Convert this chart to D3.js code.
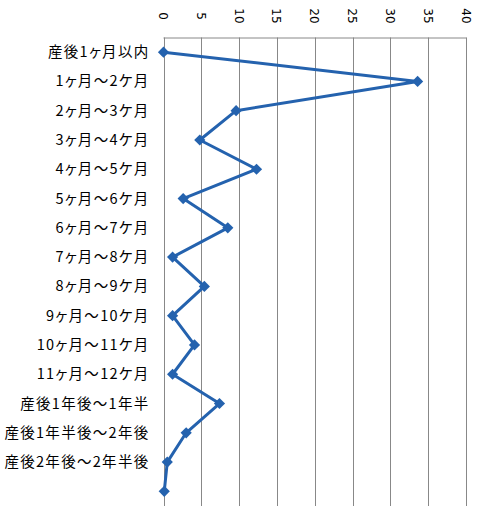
<!DOCTYPE html>
<html><head><meta charset="utf-8">
<script src="https://cdn.jsdelivr.net/npm/d3@7"></script>
<style>body{margin:0;background:#fff} .cat{font-feature-settings:"palt" 1;}</style>
</head><body>
<svg id="c" width="481" height="527"></svg>
<script>
const categories = ["産後1ヶ月以内","1ヶ月～2ケ月","2ヶ月～3ケ月","3ヶ月～4ケ月","4ヶ月～5ケ月","5ヶ月～6ケ月","6ヶ月～7ケ月","7ヶ月～8ケ月","8ヶ月～9ケ月","9ヶ月～10ケ月","10ヶ月～11ケ月","11ヶ月～12ケ月","産後1年後～1年半","産後1年半後～2年後","産後2年後～2年半後",""];
const values = [0,33.6,9.6,4.8,12.3,2.6,8.5,1.2,5.4,1.2,4.1,1.2,7.4,3.0,0.5,0.1];
const ticks = [0,5,10,15,20,25,30,35,40];

const svg = d3.select("#c");
const pLeft = 163.5, pRight = 466, pTop = 37.5, pBottom = 506;
const x = d3.scaleLinear().domain([0,40]).range([pLeft,pRight]);
const y = d3.scalePoint().domain(d3.range(categories.length)).range([pTop,pBottom]).padding(0.5);

const grid = svg.append("g");
grid.selectAll("line.v").data(ticks).join("line")
  .attr("x1",d=>Math.round(x(d))+0.5).attr("x2",d=>Math.round(x(d))+0.5)
  .attr("y1",pTop).attr("y2",pBottom)
  .attr("stroke","#888").attr("stroke-width",1);
grid.append("line").attr("x1",pLeft).attr("x2",Math.round(pRight)+0.5)
  .attr("y1",pTop+0.5).attr("y2",pTop+0.5).attr("stroke","#888");

svg.append("g").selectAll("text").data(ticks).join("text")
  .attr("transform",d=>`translate(${x(d)-4.5},16) rotate(90)`)
  .attr("text-anchor","middle")
  .attr("font-family","'DejaVu Sans', sans-serif").attr("font-size",12)
  .attr("fill","#000").text(d=>d);

svg.append("g").selectAll("text").data(categories).join("text")
  .attr("class","cat")
  .attr("x",149.5).attr("y",(d,i)=>y(i)).attr("dy","0.35em")
  .attr("text-anchor","end")
  .attr("font-family","'Noto Sans CJK JP', sans-serif").attr("font-size",14.5)
  .attr("letter-spacing","1.3px")
  .attr("fill","#000").text(d=>d);

const line = d3.line().x(d=>x(d)).y((d,i)=>y(i));
svg.append("path").datum(values).attr("d",line)
  .attr("fill","none").attr("stroke","#2462ae").attr("stroke-width",3)
  .attr("stroke-linejoin","round");

svg.append("g").selectAll("path").data(values).join("path")
  .attr("d",d3.symbol().type(d3.symbolDiamond2).size(80))
  .attr("transform",(d,i)=>`translate(${x(d)},${y(i)})`)
  .attr("fill","#2462ae");
</script>
</body></html>
